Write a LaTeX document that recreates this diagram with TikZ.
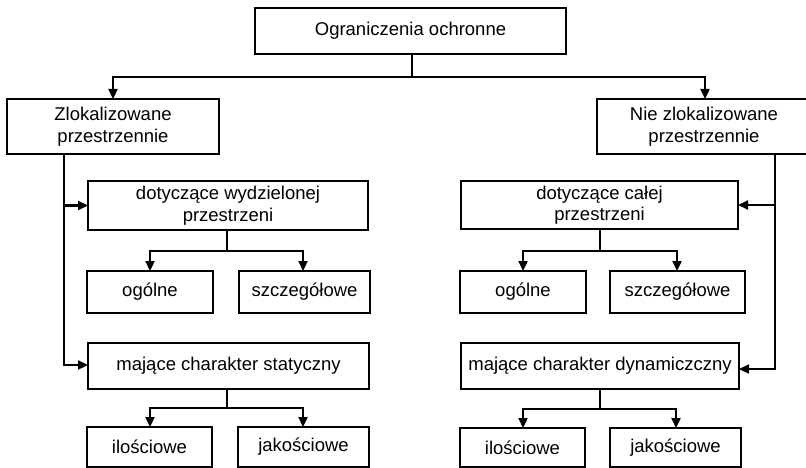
\documentclass[tikz,border=0pt]{standalone}
\usepackage{fontspec}
\setmainfont{Liberation Sans}
\usetikzlibrary{arrows.meta}
\begin{document}
\begin{tikzpicture}[x=1pt,y=-1pt,
  box/.style={draw=black,line width=1.3pt,inner sep=0pt,outer sep=0pt,align=center,
    font=\fontsize{18.5}{21.5}\selectfont},
  conn/.style={line width=2.3pt},
  arr/.style={conn,-{Triangle[length=10pt,width=9pt]}}]
\useasboundingbox (0,0) rectangle (806,468);
% nodes
\node[box,minimum width=311pt,minimum height=46pt] (top) at (410.5,31) {Ograniczenia ochronne};
\node[box,minimum width=212pt,minimum height=55pt] (L1) at (113,126.5) {Zlokalizowane\\przestrzennie};
\node[box,minimum width=214pt,minimum height=55pt] (R1) at (704,126.5) {Nie zlokalizowane\\przestrzennie};
\node[box,minimum width=280pt,minimum height=49pt] (LA) at (228,205.5) {dotyczące wydzielonej\\przestrzeni};
\node[box,minimum width=126pt,minimum height=42pt] (LA1) at (150,292) {ogólne};
\node[box,minimum width=131pt,minimum height=42pt] (LA2) at (304.5,292) {szczegółowe};
\node[box,minimum width=281pt,minimum height=46pt] (LB) at (228.5,366) {mające charakter statyczny};
\node[box,minimum width=125pt,minimum height=40pt] (LB1) at (149.5,447) {ilościowe};
\node[box,minimum width=131pt,minimum height=40pt] (LB2) at (303.5,447) {jakościowe};
\node[box,minimum width=277pt,minimum height=48pt] (RA) at (599.5,205) {dotyczące całej\\przestrzeni};
\node[box,minimum width=126pt,minimum height=42pt] (RA1) at (523,292) {ogólne};
\node[box,minimum width=135pt,minimum height=42pt] (RA2) at (677.5,292) {szczegółowe};
\node[box,minimum width=278pt,minimum height=46pt] (RB) at (600,366) {mające charakter dynamiczczny};
\node[box,minimum width=125pt,minimum height=39pt] (RB1) at (522.5,447.5) {ilościowe};
\node[box,minimum width=131pt,minimum height=39pt] (RB2) at (675.5,447.5) {jakościowe};
% junction coordinates
\coordinate (t0) at (412,77);
\coordinate (lv) at (64,365);
\coordinate (rv) at (775,369);
\coordinate (la0) at (227,251);
\coordinate (lb0) at (227,408);
\coordinate (ra0) at (600,251);
\coordinate (rb0) at (600,409);
% connectors
\draw[conn] (top.south -| t0) -- (t0);
\draw[arr] (t0) -- (t0 -| 113,0) -- (L1.north);
\draw[arr] (t0) -- (t0 -| 705,0) -- (R1.north -| 705,0);
\draw[arr] (L1.south -| lv) -- (lv) -- (LB.west |- lv);
\draw[arr] (lv |- LA.west) -- (LA.west);
\draw[arr] (R1.south -| rv) -- (rv) -- (RB.east |- rv);
\draw[arr] (rv |- RA.east) -- (RA.east);
\draw[conn] (LA.south -| la0) -- (la0);
\draw[arr] (la0) -| (LA1.north);
\draw[arr] (la0) -| (LA2.north -| 303,0);
\draw[conn] (LB.south -| lb0) -- (lb0);
\draw[arr] (lb0) -| (LB1.north -| 150,0);
\draw[arr] (lb0) -| (LB2.north -| 303,0);
\draw[conn] (RA.south -| ra0) -- (ra0);
\draw[arr] (ra0) -| (RA1.north);
\draw[arr] (ra0) -| (RA2.north -| 677,0);
\draw[conn] (RB.south -| rb0) -- (rb0);
\draw[arr] (rb0) -| (RB1.north -| 523,0);
\draw[arr] (rb0) -| (RB2.north -| 676,0);
\end{tikzpicture}
\end{document}
